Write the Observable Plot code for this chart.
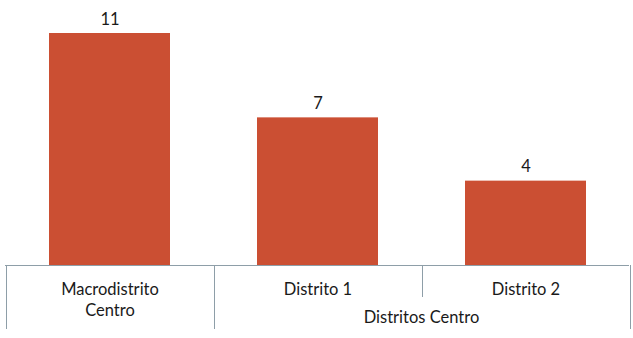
<!DOCTYPE html>
<html>
<head>
<meta charset="utf-8">
<script src="https://cdn.jsdelivr.net/npm/d3@7"></script>
<script src="https://cdn.jsdelivr.net/npm/@observablehq/plot@0.6"></script>
<style>
  html, body { margin: 0; padding: 0; background: #fff; }
  #chart { width: 633px; height: 338px; }
</style>
</head>
<body>
<div id="chart"></div>
<script>
const categories = ["Macrodistrito Centro", "Distrito 1", "Distrito 2"];
const categoryLabels = ["Macrodistrito\nCentro", "Distrito 1", "Distrito 2"];
const values = [11, 7, 4];
const groups = [
  { label: "", members: ["Macrodistrito Centro"] },
  { label: "Distritos Centro", members: ["Distrito 1", "Distrito 2"] }
];

const data = categories.map((c, i) => ({ cat: c, label: categoryLabels[i], value: values[i] }));

const FONT = "Lato, 'Open Sans', sans-serif";
const FS = 16.5;
const LINE = "#8e9ea8";
const INK = "#1a1a1a";

function groupAxis(index, scales, vals, dims) {
  const x = scales.x;
  const step = x.step ? x.step() : (x(categories[1]) - x(categories[0]));
  const bw = x.bandwidth ? x.bandwidth() : 0;
  const off = (step - bw) / 2;
  const y0 = dims.height - dims.marginBottom;
  const g = d3.create("svg:g").attr("fill", "none").attr("stroke", LINE).attr("stroke-width", 1);
  g.append("line")
    .attr("x1", dims.marginLeft).attr("x2", dims.width - dims.marginRight)
    .attr("y1", y0 + 0.5).attr("y2", y0 + 0.5);
  const bounds = new Set();
  groups.forEach(gr => {
    const l = x(gr.members[0]) - off;
    const r = x(gr.members[gr.members.length - 1]) + bw + off;
    bounds.add(Math.round(l)); bounds.add(Math.round(r));
  });
  bounds.forEach(b => {
    g.append("line").attr("x1", b + 0.5).attr("x2", b + 0.5).attr("y1", y0).attr("y2", y0 + 64);
  });
  groups.forEach(gr => {
    for (let i = 1; i < gr.members.length; i++) {
      const b = Math.round(x(gr.members[i]) - off);
      g.append("line").attr("x1", b + 0.5).attr("x2", b + 0.5).attr("y1", y0).attr("y2", y0 + 32);
    }
  });
  const t = d3.create("svg:g").attr("font-family", FONT).attr("font-size", FS).attr("fill", INK).attr("text-anchor", "middle");
  groups.forEach(gr => {
    if (!gr.label) return;
    const l = x(gr.members[0]) - off;
    const r = x(gr.members[gr.members.length - 1]) + bw + off;
    t.append("text").attr("x", (l + r) / 2).attr("y", y0 + 58).text(gr.label);
  });
  const wrap = d3.create("svg:g");
  wrap.append(() => g.node());
  wrap.append(() => t.node());
  return wrap.node();
}

const chart = Plot.plot({
  width: 633,
  height: 338,
  marginLeft: 5,
  marginRight: 4,
  marginTop: 33,
  marginBottom: 73,
  style: { fontFamily: FONT, background: "#fff" },
  x: { domain: categories, paddingInner: 0.42, paddingOuter: 0.21, axis: null },
  y: { domain: [0, 11], axis: null },
  marks: [
    Plot.barY(data, { x: "cat", y: "value", fill: "#cb4f33" }),
    Plot.text(data, { x: "cat", y: "value", text: d => String(d.value), dy: -14, fontSize: FS, fill: INK, fontFamily: FONT }),
    Plot.text(data, { x: "cat", text: "label", frameAnchor: "bottom", lineAnchor: "top", dy: 14, lineHeight: 1.28, fontSize: FS, fill: INK, fontFamily: FONT }),
    groupAxis
  ]
});
document.getElementById("chart").appendChild(chart);
</script>
</body>
</html>
